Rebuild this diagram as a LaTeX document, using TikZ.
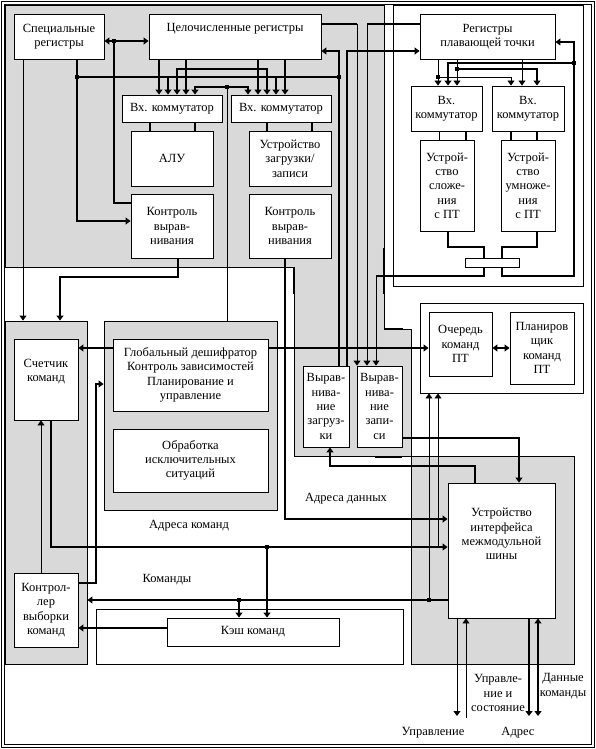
\documentclass[tikz,border=0pt]{standalone}
\usepackage{fontspec}
\setmainfont{Liberation Serif}
\usetikzlibrary{arrows.meta}

\begin{document}
\begin{tikzpicture}[x=1pt,y=-1pt,
  >={Triangle[length=5pt,width=7pt]},
  thn/.style={line width=0.9pt},
  thk/.style={line width=2.6pt},
  box/.style={draw,line width=0.9pt,fill=white,inner sep=0pt,align=center,font=\fontsize{12.5}{14.3}\selectfont},
  panel/.style={draw,line width=0.9pt,fill=gray!30,inner sep=0pt},
  wpanel/.style={draw,line width=0.9pt,fill=white,inner sep=0pt},
  lbl/.style={inner sep=0pt,align=center,font=\fontsize{12.5}{14.3}\selectfont},
  dot/.style={fill,inner sep=0pt,minimum size=4pt}]

\useasboundingbox (0,0) rectangle (596,749);
% frame
\draw[line width=0.9pt] (1,1) rectangle (594.5,747.5);
\draw[line width=0.9pt] (4,4) rectangle (591.5,744.5);

% integer part and alignment units
\filldraw[fill=gray!30,line width=0.9pt] (5,5) -- (384,5) -- (384,329) -- (411,329) -- (411,456) -- (294,456) -- (294,267) -- (5,267) -- cycle;
\draw[thk] (294,267) -- (294,294);
\draw[thk] (384,248) -- (384,294);
\draw[thk] (384,329) -- (403,329);
\draw[thk] (375,457) -- (402,457);

% panels
\node[wpanel,minimum width=190pt,minimum height=281pt] (fpp) at (488,145.5) {};
\node[wpanel,minimum width=163pt,minimum height=90pt] (fqp) at (501.5,348) {};
\node[panel,minimum width=82pt,minimum height=343pt] (pcp) at (46,492.5) {};
\node[panel,minimum width=173pt,minimum height=189pt] (gdp) at (190.5,415.5) {};
\node[panel,minimum width=163pt,minimum height=208pt] (bifp) at (492.5,560) {};
\node[wpanel,minimum width=307pt,minimum height=55pt] (icp) at (249.5,636.5) {};

% blocks
\node[box,minimum width=90pt,minimum height=45pt] (sreg) at (59,36.5) {Специальные\\регистры};
\node[box,minimum width=172pt,minimum height=45pt] (ireg) at (235,36.5) {Целочисленные регистры\\\strut};
\node[box,minimum width=135pt,minimum height=45pt] (freg) at (487.5,36.5) {Регистры\\плавающей точки};
\node[box,minimum width=100pt,minimum height=27pt] (cmL) at (172,108.5) {Вх. коммутатор};
\node[box,minimum width=100pt,minimum height=27pt] (cmR) at (281,108.5) {Вх. коммутатор};
\node[box,minimum width=82pt,minimum height=55pt] (alu) at (172,158.5) {АЛУ};
\node[box,minimum width=82pt,minimum height=55pt] (lsu) at (290,158.5) {Устройство\\загрузки/\\записи};
\node[box,minimum width=82pt,minimum height=64pt] (alcL) at (172,226) {Контроль\\вырав-\\нивания};
\node[box,minimum width=82pt,minimum height=64pt] (alcR) at (290,226) {Контроль\\вырав-\\нивания};
\node[box,minimum width=71pt,minimum height=45pt] (fcmL) at (446.5,108.5) {Вх.\\коммутатор};
\node[box,minimum width=72pt,minimum height=45pt] (fcmR) at (528,108.5) {Вх.\\коммутатор};
\node[box,minimum width=54pt,minimum height=91pt] (fadd) at (447,185.5) {Устрой-\\ство\\сложе-\\ния\\с ПТ};
\node[box,minimum width=54pt,minimum height=91pt] (fmul) at (528,185.5) {Устрой-\\ство\\умноже-\\ния\\с ПТ};
\node[box,minimum width=54pt,minimum height=9pt] (fbus) at (492,262.5) {};
\node[box,minimum width=64pt,minimum height=81pt] (pc) at (46,379.5) {Счетчик\\команд\\\strut};
\node[box,minimum width=64pt,minimum height=74pt] (fetch) at (46,610) {Контрол-\\лер\\выборки\\команд};
\node[box,minimum width=155pt,minimum height=72pt] (gdec) at (190.5,375) {Глобальный дешифратор\\Контроль зависимостей\\Планирование и\\управление};
\node[box,minimum width=155pt,minimum height=63pt] (exc) at (190.5,460.5) {Обработка\\исключительных\\ситуаций};
\node[box,minimum width=46pt,minimum height=81pt] (ldal) at (326,406.5) {Вырав-\\нива-\\ние\\загруз-\\ки};
\node[box,minimum width=45pt,minimum height=81pt] (stal) at (379.5,406.5) {Вырав-\\нива-\\ние\\запи-\\си};
\node[box,minimum width=63pt,minimum height=64pt] (fq) at (460.5,344) {Очередь\\команд\\ПТ};
\node[box,minimum width=64pt,minimum height=72pt] (fsch) at (542,348) {Планиров\\щик\\команд\\ПТ};
\node[box,minimum width=172pt,minimum height=28pt] (icache) at (253,632) {Кэш команд};
\node[box,minimum width=107pt,minimum height=135pt] (bif) at (501.5,550.5) {Устройство\\интерфейса\\межмодульной\\шины\\\strut\\\strut};

% labels
\node[lbl] (ldat) at (346,499) {Адреса данных};
\node[lbl] (lcad) at (189,526) {Адреса команд};
\node[lbl] (lcmd) at (167,580) {Команды};
\node[lbl] (lcst) at (498,693) {Управле-\\ние и\\состояние};
\node[lbl] (ldcm) at (563,686) {Данные\\команды};
\node[lbl] (lctl) at (433,733) {Управление};
\node[lbl] (ladr) at (518,733) {Адрес};

% free ends of the bus lines
\coordinate (ctlo) at (457,716);
\coordinate (ctli) at (466,718);
\coordinate (adro) at (529,716);
\coordinate (dato) at (538,716);

% integer registers
\draw[thk,<->] (sreg.east |- 0,41) -- (ireg.west |- 0,41);
\draw[thk] (114,41) |- (alcL.west |- 0,203);
\draw[thk,->] (sreg.south -| 77,0) |- (alcL.west |- 0,221);
\draw[thk] (77,77) -- (339,77);
\draw[thk,->] (168,77) -- (cmL.north -| 168,0);
\draw[thk,->] (276,77) -- (cmR.north -| 276,0);
\foreach \x in {159,186} \draw[thk,->] (ireg.south -| \x,0) -- (cmL.north -| \x,0);
\foreach \x in {258,285} \draw[thk,->] (ireg.south -| \x,0) -- (cmR.north -| \x,0);
\draw[thk,<->] (cmL.north -| 177,0) |- (267,69) -- (cmR.north -| 267,0);
\draw[thk,<->] (cmL.north -| 195,0) |- (248,87) -- (cmR.north -| 248,0);
\draw[thn] (gdp.north -| 227,0) -- (227,87);
\foreach \x in {150,195} \draw[thk] (cmL.south -| \x,0) -- (alu.north -| \x,0);
\foreach \x in {267,312} \draw[thk] (cmR.south -| \x,0) -- (lsu.north -| \x,0);
\draw[thk] (ireg.east |- 0,24) -- (357,24);
\draw[thn,->] (357,24) -- (stal.north -| 357,0);
\draw[thk] (freg.west |- 0,24) -- (367,24);
\draw[thn,->] (367,24) -- (stal.north -| 367,0);
\draw[thk,->] (ldal.north -| 339,0) |- (ireg.east |- 0,51);
\draw[thk,->] (ldal.north -| 347,0) |- (freg.west |- 0,51);

% floating point
\draw[thk] (fadd.south -| 448,0) |- (484,247) -- (fbus.north -| 484,0);
\draw[thk] (fmul.south -| 537,0) |- (502,247) -- (fbus.north -| 502,0);
\draw[thk] (fbus.south -| 484,0) |- (376,276);
\draw[thn,->] (376,276) -- (stal.north -| 376,0);
\draw[thk,->] (fbus.south -| 502,0) |- (574,276) |- (freg.east |- 0,42);
\draw[thk,->] (574,63) -| (fcmL.north -| 448,0);
\draw[thk,->] (457,69) -| (fcmR.north -| 537,0);
\draw[thn,->] (freg.south -| 438,0) -- (fcmL.north -| 438,0);
\draw[thn,->] (438,77) -| (fcmR.north -| 511,0);
\draw[thn,->] (freg.south -| 457,0) -- (fcmL.north -| 457,0);
\draw[thn,->] (freg.south -| 522,0) -- (fcmR.north -| 522,0);
\draw[thn] (fcmL.south -| 439,0) -- (fadd.north -| 439,0);
\draw[thk] (fcmL.south -| 466,0) -- (fadd.north -| 466,0);
\foreach \x in {511,537} \draw[thk] (fcmR.south -| \x,0) -- (fmul.north -| \x,0);

% control and fetch
\draw[thk,->] (gdec.west |- 0,348) -- (pc.east |- 0,348);
\draw[thk,->] (gdec.east |- 0,348) -- (fq.west |- 0,348);
\draw[thk,<->] (fq.east |- 0,348) -- (fsch.west |- 0,348);
\draw[thk,->] (alcL.south -| 178,0) |- (60,277) -- (pcp.north -| 60,0);
\draw[thn,->] (sreg.south -| 23,0) -- (pcp.north -| 23,0);
\draw[thk,->] (alcR.south -| 285,0) |- (bif.west |- 0,519);
\draw[thk,->] (fetch.east |- 0,583) -| (96,384) -- (gdp.west |- 0,384);
\draw[thn,->] (fetch.north -| 41,0) -- (pc.south -| 41,0);
\draw[thk,->] (pc.south -| 51,0) |- (bif.west |- 0,547);
\draw[thk,->] (267,547) -- (icache.north -| 267,0);
\draw[thn,->] (438,547) -- (fqp.south -| 438,0);
\draw[thk,->] (bif.west |- 0,600) -- (pcp.east |- 0,600);
\draw[thk,->] (239,600) -- (icache.north -| 239,0);
\draw[thn,->] (429,600) -- (fqp.south -| 429,0);
\draw[thk,->] (icache.west |- 0,628) -- (fetch.east |- 0,628);
\draw[thk,->] (stal.east |- 0,438) -| (bif.north -| 519,0);
\draw[thk,->] (bif.north -| 475,0) |- (330,466) -- (ldal.south -| 330,0);

% external bus
\draw[thn,->] (bif.south -| ctlo) -- (ctlo);
\draw[thn,->] (ctli) -- (bif.south -| ctli);
\draw[thk,->] (bif.south -| adro) -- (adro);
\draw[thk,<->] (bif.south -| dato) -- (dato);

% junctions
\foreach \p in {(114,41),(77,77),(339,77),(227,87),(438,77),(457,69),(574,63),(267,547),(239,600),(429,600)}
  \node[dot] at \p {};
\end{tikzpicture}
\end{document}
